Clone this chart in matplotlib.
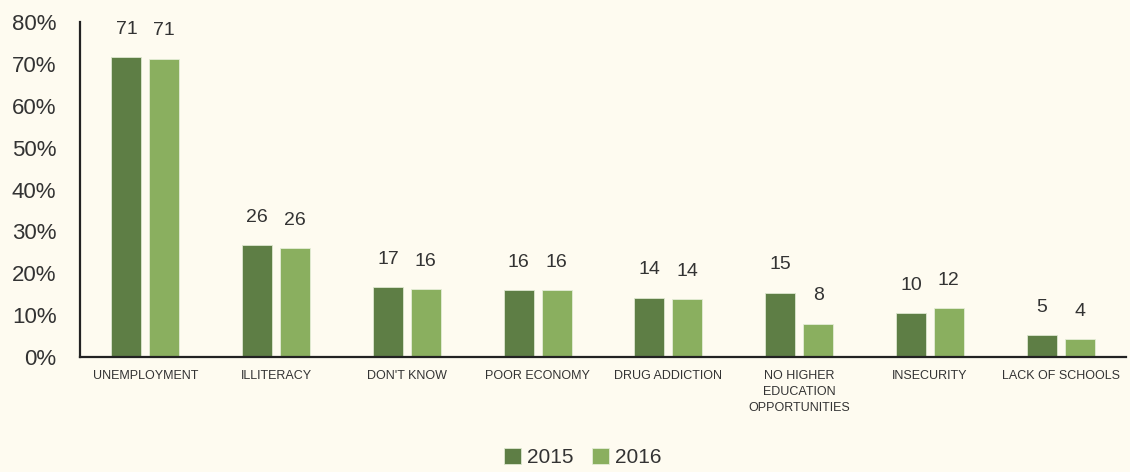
import numpy as np
import matplotlib.pyplot as plt

# data
categories = ["UNEMPLOYMENT", "ILLITERACY", "DON'T KNOW", "POOR ECONOMY",
              "DRUG ADDICTION", "NO HIGHER\nEDUCATION\nOPPORTUNITIES",
              "INSECURITY", "LACK OF SCHOOLS"]
v2015 = [71.6, 26.7, 16.7, 16.0, 14.2, 15.4, 10.4, 5.2]
v2016 = [71.2, 26.0, 16.2, 16.0, 13.8, 8.0, 11.6, 4.3]
lab2015 = [71, 26, 17, 16, 14, 15, 10, 5]
lab2016 = [71, 26, 16, 16, 14, 8, 12, 4]
yticks = [0, 10, 20, 30, 40, 50, 60, 70, 80]

bg = "#FEFBF0"
c15 = "#5E7E45"
c16 = "#8AAF5F"
txt = "#333333"

plt.rcParams['font.family'] = ['Liberation Sans', 'DejaVu Sans']

fig = plt.figure(figsize=(11.3, 4.72), dpi=100, facecolor=bg)
ax = fig.add_axes([0.0708, 0.2436, 0.9257, 0.7097])
ax.set_facecolor(bg)

x = np.arange(len(categories))
w = 0.23
off = 0.145
b1 = ax.bar(x - off, v2015, w, color=c15, edgecolor="#DDE6CF", linewidth=0.6, label="2015")
b2 = ax.bar(x + off, v2016, w, color=c16, edgecolor="#E4EDD6", linewidth=0.6, label="2016")

for bars, labs in ((b1, lab2015), (b2, lab2016)):
    for r, l in zip(bars, labs):
        ax.annotate(str(l), (r.get_x() + r.get_width() / 2, r.get_height()),
                    xytext=(0, 14), textcoords="offset points",
                    ha="center", va="bottom", fontsize=14, color=txt)

ax.set_xlim(-0.5, 7.5)
ax.set_ylim(0, 80)
ax.set_yticks(yticks)
ax.set_yticklabels([f"{t}%" for t in yticks], fontsize=16, color=txt)
ax.set_xticks(x)
ax.set_xticklabels(categories, fontsize=9, color=txt, linespacing=1.45)
ax.tick_params(axis="y", length=0, pad=17)
ax.tick_params(axis="x", length=0, pad=9)

for s in ("top", "right"):
    ax.spines[s].set_visible(False)
for s in ("left", "bottom"):
    ax.spines[s].set_color("#222222")
    ax.spines[s].set_linewidth(1.6)

fig.legend(handles=[b1, b2], labels=["2015", "2016"], loc="lower center",
           bbox_to_anchor=(0.516, -0.03), ncol=2, frameon=False, fontsize=15,
           handlelength=0.8, handleheight=0.8, handletextpad=0.3,
           columnspacing=0.9, labelcolor=txt)

fig.savefig("out.png", dpi=100, facecolor=bg)
